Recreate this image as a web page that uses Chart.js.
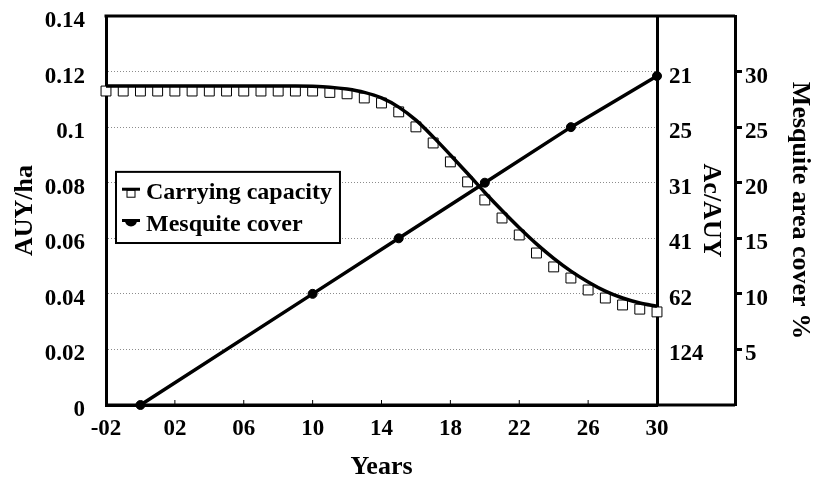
<!DOCTYPE html>
<html>
<head>
  <title>Carrying capacity and mesquite cover</title>
  <script src="https://cdn.jsdelivr.net/npm/chart.js"></script>
  <style>
    body { margin: 0; background: #fff; }
    #chart { display: block; }
  </style>
</head>
<body>
  <canvas id="chart" width="827" height="485"></canvas>

  <script>
    // Years for the carrying capacity squares and fitted curve
    const years = [-2, -1, 0, 1, 2, 3, 4, 5, 6, 7, 8, 9, 10, 11, 12, 13, 14, 15, 16,
                   17, 18, 19, 20, 21, 22, 23, 24, 25, 26, 27, 28, 29, 30];
    // Carrying capacity (AUY/ha), open squares
    const capacity = [0.113, 0.113, 0.113, 0.113, 0.113, 0.113, 0.113, 0.113, 0.113, 0.113,
                      0.113, 0.113, 0.113, 0.1125, 0.112, 0.1105, 0.1087, 0.1055, 0.1001,
                      0.0943, 0.0875, 0.0803, 0.0738, 0.0673, 0.0612, 0.0547, 0.0497,
                      0.0457, 0.0414, 0.0385, 0.036, 0.0345, 0.0335];
    // Smooth curve drawn over the squares
    const capacityCurve = [0.1148, 0.1148, 0.1148, 0.1148, 0.1148, 0.1148, 0.1148, 0.1148,
                           0.1148, 0.1148, 0.1148, 0.1148, 0.1147, 0.1144, 0.1137, 0.1125,
                           0.1105, 0.1072, 0.1025, 0.0965, 0.09, 0.0833, 0.0765, 0.07,
                           0.0638, 0.058, 0.0528, 0.0482, 0.0443, 0.041, 0.0385, 0.0367, 0.0355];
    // Mesquite area cover (%)
    const mesquiteYears = [0, 10, 15, 20, 25, 30];
    const mesquiteCover = [0, 10, 15, 20, 25, 29.6];

    // Tick labels
    const xTicks = [-2, 2, 6, 10, 14, 18, 22, 26, 30];
    const xTickLabels = ['-02', '02', '06', '10', '14', '18', '22', '26', '30'];
    const yTicks = [0, 0.02, 0.04, 0.06, 0.08, 0.1, 0.12, 0.14];
    const yTickLabels = ['0', '0.02', '0.04', '0.06', '0.08', '0.1', '0.12', '0.14'];
    const acTicks = [0.02, 0.04, 0.06, 0.08, 0.1, 0.12];
    const acTickLabels = ['124', '62', '41', '31', '25', '21'];
    const mesTicks = [5, 10, 15, 20, 25, 30];
    const mesTickLabels = ['5', '10', '15', '20', '25', '30'];

    const FONT = "'Liberation Serif', 'Times New Roman', serif";
    const tickFont = { family: FONT, size: 23, weight: 'bold' };
    const titleFont = { family: FONT, size: 26, weight: 'bold' };

    const setTicks = (vals) => (scale) => { scale.ticks = vals.map(v => ({ value: v })); };
    // fixed axis sizes; drop the extra padding chart.js adds for tick labels
    const fitV = (w) => (s) => { s.width = w; s.paddingTop = 0; s.paddingBottom = 0; };
    const fitH = (h) => (s) => { s.height = h; s.paddingLeft = 0; s.paddingRight = 0; };

    // frame, small inner ticks on the x axis, and the boxed legend
    const framePlugin = {
      id: 'framePlugin',
      afterDraw(chart) {
        const { ctx, chartArea, scales } = chart;
        const right = scales.yMes.left;
        ctx.save();
        ctx.strokeStyle = '#000';
        ctx.lineWidth = 3;
        ctx.beginPath();
        ctx.moveTo(chartArea.left - 1.5, chartArea.top);
        ctx.lineTo(right, chartArea.top);
        ctx.moveTo(chartArea.left, chartArea.bottom);
        ctx.lineTo(right, chartArea.bottom);
        ctx.stroke();

        ctx.lineWidth = 1;
        ctx.beginPath();
        scales.x.ticks.forEach(t => {
          const px = scales.x.getPixelForValue(t.value);
          ctx.moveTo(px, chartArea.bottom);
          ctx.lineTo(px, chartArea.bottom - 5);
        });
        ctx.stroke();

        // legend
        const lx = chartArea.left + 10;
        const top = scales.y.getPixelForValue(0.0839);
        const bottom = scales.y.getPixelForValue(0.0583);
        ctx.font = 'bold 24px ' + FONT;
        const labels = chart.data.datasets.filter(d => d.legend).map(d => d.label);
        const w = Math.max(...labels.map(l => ctx.measureText(l).width)) + 38;
        ctx.fillStyle = '#fff';
        ctx.fillRect(lx, top, w, bottom - top);
        ctx.lineWidth = 2;
        ctx.strokeRect(lx, top, w, bottom - top);

        const row1 = top + (bottom - top) * 0.3;
        const row2 = top + (bottom - top) * 0.74;
        // carrying capacity symbol
        ctx.lineWidth = 3;
        ctx.beginPath();
        ctx.moveTo(lx + 6, row1 - 4);
        ctx.lineTo(lx + 24, row1 - 4);
        ctx.stroke();
        ctx.lineWidth = 1;
        ctx.strokeRect(lx + 11, row1 - 3, 8, 7);
        // mesquite symbol
        ctx.lineWidth = 3;
        ctx.beginPath();
        ctx.moveTo(lx + 6, row2 - 4);
        ctx.lineTo(lx + 24, row2 - 4);
        ctx.stroke();
        ctx.fillStyle = '#000';
        ctx.beginPath();
        ctx.arc(lx + 15, row2 - 4, 6, 0, Math.PI);
        ctx.fill();

        ctx.fillStyle = '#000';
        ctx.textBaseline = 'middle';
        ctx.textAlign = 'left';
        ctx.fillText(labels[0], lx + 30, row1);
        ctx.fillText(labels[1], lx + 30, row2);
        ctx.restore();
      }
    };

    const ctx = document.getElementById('chart').getContext('2d');
    new Chart(ctx, {
      type: 'line',
      data: {
        datasets: [
          {
            label: 'Carrying capacity',
            legend: true,
            data: years.map((x, i) => ({ x: x, y: capacity[i] })),
            yAxisID: 'y',
            showLine: false,
            pointStyle: 'rect',
            pointRadius: 7,
            pointBorderWidth: 1,
            pointBorderColor: '#000',
            pointBackgroundColor: '#fff',
            clip: false,
            order: 3
          },
          {
            label: 'Mesquite cover',
            legend: true,
            data: mesquiteYears.map((x, i) => ({ x: x, y: mesquiteCover[i] })),
            yAxisID: 'yMes',
            borderColor: '#000',
            backgroundColor: '#000',
            borderWidth: 3.5,
            pointRadius: 4.5,
            pointBorderWidth: 1,
            pointStyle: 'circle',
            clip: false,
            order: 1
          },
          {
            label: 'Carrying capacity curve',
            data: years.map((x, i) => ({ x: x, y: capacityCurve[i] })),
            yAxisID: 'y',
            borderColor: '#000',
            borderWidth: 3.5,
            pointRadius: 0,
            cubicInterpolationMode: 'monotone',
            order: 2
          }
        ]
      },
      options: {
        responsive: false,
        animation: false,
        layout: { padding: { top: 16, left: 0, right: 0, bottom: 0 } },
        plugins: {
          legend: { display: false },
          tooltip: { enabled: false }
        },
        scales: {
          x: {
            type: 'linear',
            min: -2,
            max: 30,
            afterBuildTicks: setTicks(xTicks),
            afterFit: fitH(80),
            ticks: {
              color: '#000',
              font: tickFont,
              padding: 10,
              callback: (v, i) => xTickLabels[i]
            },
            grid: { display: false, drawTicks: false },
            border: { color: '#000', width: 3 },
            title: {
              display: true,
              text: 'Years',
              color: '#000',
              font: titleFont,
              padding: { top: 0, bottom: 2 }
            }
          },
          y: {
            type: 'linear',
            position: 'left',
            min: 0,
            max: 0.14,
            afterBuildTicks: setTicks(yTicks),
            afterFit: fitV(106),
            ticks: {
              color: '#000',
              font: tickFont,
              padding: 21,
              labelOffset: 5,
              callback: (v, i) => yTickLabels[i]
            },
            grid: {
              drawTicks: false,
              color: (c) => (c.tick && (c.tick.value === 0 || c.tick.value === 0.14)) ? 'rgba(0,0,0,0)' : '#8c8c8c',
              lineWidth: 1
            },
            border: { color: '#000', width: 3, dash: [1, 2] },
            title: {
              display: true,
              text: 'AUY/ha',
              color: '#000',
              font: titleFont,
              padding: { top: 10, bottom: 0 }
            }
          },
          yAc: {
            type: 'linear',
            position: 'right',
            weight: 0,
            min: 0,
            max: 0.14,
            afterBuildTicks: setTicks(acTicks),
            afterFit: fitV(78),
            ticks: {
              color: '#000',
              font: tickFont,
              padding: 12,
              labelOffset: 5,
              callback: (v, i) => acTickLabels[i]
            },
            grid: { display: false, drawTicks: false },
            border: { color: '#000', width: 3 },
            title: {
              display: true,
              text: 'Ac/AUY',
              color: '#000',
              font: titleFont,
              padding: { top: 9, bottom: 0 }
            }
          },
          yMes: {
            type: 'linear',
            position: 'right',
            weight: 1,
            min: 0,
            max: 35,
            afterBuildTicks: setTicks(mesTicks),
            afterFit: fitV(92),
            ticks: {
              color: '#000',
              font: tickFont,
              padding: 3,
              labelOffset: 5,
              callback: (v, i) => mesTickLabels[i]
            },
            grid: {
              drawOnChartArea: false,
              drawTicks: true,
              tickLength: 7,
              tickWidth: 3,
              tickColor: '#000'
            },
            border: { color: '#000', width: 3 },
            title: {
              display: true,
              text: 'Mesquite area cover %',
              color: '#000',
              font: titleFont,
              padding: { top: 12, bottom: 0 }
            }
          }
        }
      },
      plugins: [framePlugin]
    });
  </script>
</body>
</html>
